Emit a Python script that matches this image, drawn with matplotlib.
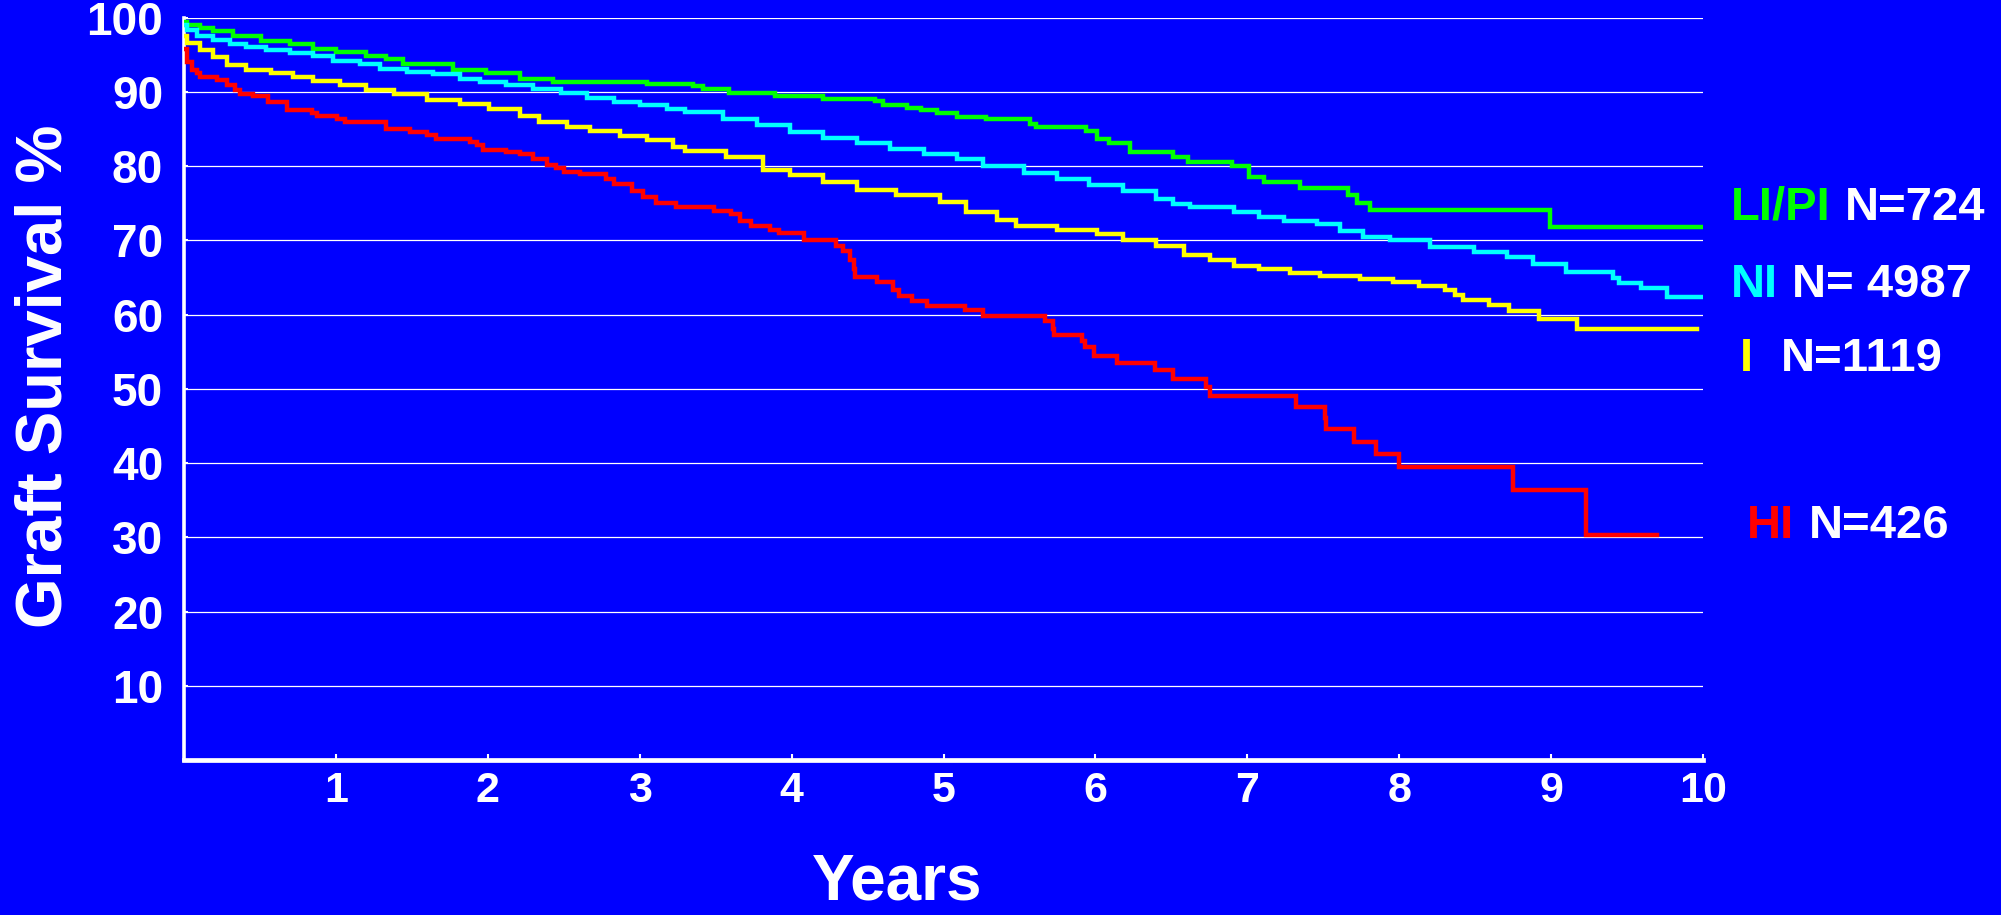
import matplotlib
matplotlib.use("Agg")
import matplotlib.pyplot as plt

# Graft survival (%) by group, Kaplan-Meier style step curves
LIPI_T = [0, 0.02, 0.105, 0.19, 0.32, 0.51, 0.70, 0.85, 1.00, 1.20, 1.33, 1.44, 1.77, 1.99,
          2.21, 2.43, 3.05, 3.35, 3.42, 3.59, 3.89, 4.21, 4.55, 4.60, 4.76, 4.85, 4.96, 5.09,
          5.28, 5.57, 5.61, 5.94, 6.01, 6.09, 6.23, 6.51, 6.61, 6.90, 7.01, 7.11, 7.35, 7.665,
          7.72, 7.81, 8.99, 9.99]
LIPI_S = [99.4, 99.0, 98.65, 98.2, 97.6, 96.9, 96.5, 95.8, 95.4, 94.9, 94.5, 93.8, 92.9, 92.5,
          91.8, 91.4, 91.1, 90.75, 90.4, 89.8, 89.5, 89.1, 88.8, 88.3, 87.9, 87.5, 87.1, 86.6,
          86.3, 85.7, 85.3, 84.7, 83.7, 83.1, 81.9, 81.3, 80.6, 80.0, 78.6, 77.9, 77.0, 76.1,
          75.1, 74.1, 71.8, 71.8]

NI_T = [0, 0.018, 0.083, 0.19, 0.30, 0.41, 0.54, 0.70, 0.85, 0.98, 1.16, 1.29, 1.47, 1.64,
        1.82, 1.95, 2.12, 2.30, 2.48, 2.65, 2.83, 3.00, 3.18, 3.30, 3.55, 3.77, 3.99, 4.21,
        4.43, 4.65, 4.87, 5.09, 5.26, 5.53, 5.75, 5.96, 6.18, 6.40, 6.51, 6.62, 6.91, 7.08,
        7.24, 7.46, 7.61, 7.76, 7.94, 8.20, 8.49, 8.71, 8.88, 9.10, 9.41, 9.45, 9.59, 9.76, 9.99]
NI_S = [99.0, 98.3, 97.6, 97.0, 96.5, 96.1, 95.6, 95.2, 94.8, 94.2, 93.7, 93.1, 92.7, 92.4,
        91.8, 91.3, 90.9, 90.4, 89.8, 89.2, 88.6, 88.2, 87.7, 87.3, 86.4, 85.6, 84.6, 83.8,
        83.1, 82.3, 81.7, 81.0, 80.0, 79.1, 78.3, 77.5, 76.7, 75.6, 74.9, 74.5, 73.8, 73.1,
        72.6, 72.2, 71.2, 70.4, 70.0, 69.1, 68.4, 67.7, 66.8, 65.7, 65.0, 64.2, 63.6, 62.4, 62.4]

I_T = [0, 0.018, 0.105, 0.19, 0.28, 0.41, 0.57, 0.72, 0.85, 1.03, 1.20, 1.38, 1.60, 1.82,
       2.01, 2.21, 2.34, 2.52, 2.67, 2.87, 3.05, 3.22, 3.30, 3.57, 3.81, 3.99, 4.21, 4.43,
       4.69, 4.98, 5.15, 5.35, 5.48, 5.75, 6.01, 6.18, 6.40, 6.58, 6.755, 6.91, 7.08, 7.28,
       7.48, 7.74, 7.96, 8.13, 8.30, 8.37, 8.42, 8.59, 8.72, 8.92, 9.17, 9.96]
I_S = [97.5, 96.6, 95.6, 94.7, 93.6, 92.9, 92.5, 92.0, 91.5, 90.9, 90.2, 89.7, 88.95, 88.4,
       87.7, 86.8, 85.9, 85.3, 84.7, 84.1, 83.5, 82.6, 82.1, 81.2, 79.5, 78.75, 77.9, 76.8,
       76.1, 75.2, 73.8, 72.7, 72.0, 71.4, 70.9, 70.0, 69.2, 68.0, 67.4, 66.6, 66.2, 65.6,
       65.2, 64.8, 64.4, 63.9, 63.3, 62.7, 62.0, 61.3, 60.5, 59.4, 58.0, 58.0]

HI_T = [0, 0.02, 0.05, 0.083, 0.105, 0.215, 0.28, 0.335, 0.37, 0.456, 0.555, 0.676, 0.84,
        0.873, 1.005, 1.06, 1.33, 1.49, 1.60, 1.66, 1.88, 1.93, 1.97, 2.12, 2.21, 2.30, 2.39,
        2.45, 2.50, 2.61, 2.78, 2.83, 2.95, 3.02, 3.11, 3.24, 3.49, 3.60, 3.66, 3.73, 3.86,
        3.92, 4.08, 4.29, 4.34, 4.385, 4.41, 4.42, 4.56, 4.67, 4.71, 4.79, 4.89, 5.14, 5.26,
        5.67, 5.72, 5.73, 5.91, 5.93, 5.99, 6.14, 6.39, 6.51, 6.73, 6.755, 7.32, 7.51, 7.52,
        7.70, 7.85, 8.00, 8.75, 9.23, 9.695]
HI_S = [95.8, 94.0, 92.9, 92.5, 92.0, 91.6, 91.0, 90.2, 89.7, 89.4, 88.6, 87.6, 87.1,
        86.7, 86.4, 85.9, 85.0, 84.6, 84.2, 83.7, 83.2, 82.8, 82.2, 81.9, 81.6, 80.9, 80.1,
        79.7, 79.2, 78.9, 78.3, 77.6, 76.7, 75.8, 75.0, 74.5, 74.0, 73.5, 72.6, 72.0, 71.4,
        71.0, 70.0, 69.3, 68.6, 67.4, 66.2, 65.05, 64.4, 63.3, 62.5, 61.9, 61.2, 60.6, 59.8,
        59.1, 58.0, 57.3, 56.4, 55.6, 54.45, 53.5, 52.5, 51.3, 50.2, 49.0, 47.6, 46.05, 44.6,
        42.8, 41.2, 39.45, 36.4, 30.3, 30.3]

GROUPS = ["LI/PI", "NI", "I", "HI"]
COUNTS = ["N=724", "N= 4987", "N=1119", "N=426"]
X_TICKS = [1, 2, 3, 4, 5, 6, 7, 8, 9, 10]
Y_TICKS = [10, 20, 30, 40, 50, 60, 70, 80, 90, 100]

BG = "#0000FF"
COLORS = ["#00FF00", "#00FFFF", "#FFFF00", "#FF0000"]
FONT = "Liberation Sans"

W, H = 2001, 915
fig = plt.figure(figsize=(W / 100, H / 100), dpi=100, facecolor=BG)
ax = fig.add_axes([184 / W, 155 / H, (1703 - 184) / W, (760 - 17.7) / H])
ax.set_facecolor(BG)

# grid behind the curves
for y in Y_TICKS:
    ax.axhline(y, color="white", lw=0.9, zorder=1)

series = [(LIPI_T, LIPI_S), (NI_T, NI_S), (I_T, I_S), (HI_T, HI_S)]
for (t, s), c in zip(series, COLORS):
    ax.plot(t, s, drawstyle="steps-post", color=c, lw=3.2, zorder=3,
            solid_joinstyle="miter")

ax.set_xlim(0, 10)
ax.set_ylim(0, 100)
for side in ["top", "right"]:
    ax.spines[side].set_visible(False)
ax.spines["left"].set_color("white")
ax.spines["left"].set_linewidth(2.6)
ax.spines["bottom"].set_color("white")
ax.spines["bottom"].set_linewidth(3.4)

ax.set_xticks(X_TICKS)
ax.set_xticklabels([str(v) for v in X_TICKS])
ax.set_yticks(Y_TICKS)
ax.set_yticklabels([str(v) for v in Y_TICKS])
ax.tick_params(axis="x", direction="in", length=4, width=1.5, color="white",
               labelcolor="white", labelsize=31, pad=8)
ax.tick_params(axis="y", direction="in", length=3, width=1.5, color="white",
               labelcolor="white", labelsize=33, pad=15)
for lab in ax.get_xticklabels() + ax.get_yticklabels():
    lab.set_fontfamily(FONT)
    lab.set_fontweight("bold")

fig.text(45 / W, 1 - 376 / H, "Graft Survival %", rotation=90, ha="center", va="center",
         color="white", fontsize=47, fontweight="bold", family=FONT)
fig.text(897 / W, 2 / H, "Years", ha="center", va="bottom",
         color="white", fontsize=46, fontweight="bold", family=FONT)

# group labels at the right edge
name_x = [1731, 1731, 1740, 1747]
count_x = [1845, 1792, 1781, 1809]
base_y = [220, 297, 371, 538]
for name, cnt, c, nx, cx, by in zip(GROUPS, COUNTS, COLORS, name_x, count_x, base_y):
    fig.text(nx / W, 1 - by / H, name, color=c, fontsize=34, fontweight="bold",
             family=FONT, va="baseline", ha="left")
    fig.text(cx / W, 1 - by / H, cnt, color="white", fontsize=34, fontweight="bold",
             family=FONT, va="baseline", ha="left")

fig.savefig("out.png", dpi=100, facecolor=BG)
